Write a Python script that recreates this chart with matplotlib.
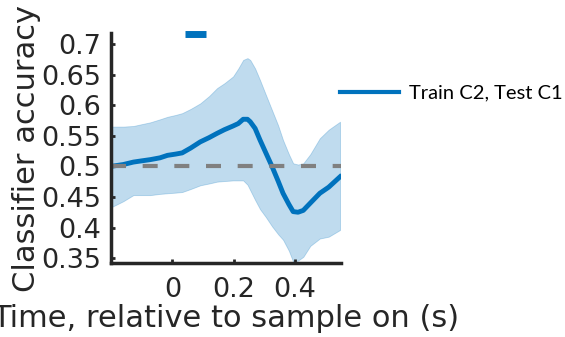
import matplotlib
matplotlib.use('Agg')
import matplotlib.pyplot as plt

# decoding accuracy, time locked to sample onset
t = [-0.2, -0.16, -0.127, -0.1, -0.072, -0.04, -0.016, 0.01, 0.032, 0.06, 0.091, 0.12,
     0.146, 0.17, 0.198, 0.215, 0.231, 0.245, 0.254, 0.27, 0.286, 0.305, 0.325, 0.345,
     0.361, 0.38, 0.394, 0.41, 0.427, 0.45, 0.481, 0.51, 0.547]
acc = [0.500, 0.503, 0.507, 0.509, 0.511, 0.514, 0.518, 0.520, 0.522, 0.530, 0.540, 0.547,
       0.554, 0.560, 0.566, 0.570, 0.577, 0.577, 0.573, 0.562, 0.543, 0.522, 0.500, 0.476,
       0.456, 0.438, 0.426, 0.425, 0.428, 0.440, 0.456, 0.466, 0.483]
upper = [0.565, 0.565, 0.566, 0.569, 0.572, 0.577, 0.581, 0.584, 0.587, 0.594, 0.603, 0.615,
         0.628, 0.636, 0.647, 0.660, 0.674, 0.677, 0.674, 0.660, 0.641, 0.617, 0.592, 0.567,
         0.543, 0.520, 0.505, 0.503, 0.505, 0.520, 0.546, 0.560, 0.573]
lower = [0.433, 0.443, 0.453, 0.453, 0.453, 0.455, 0.456, 0.457, 0.458, 0.463, 0.469, 0.472,
         0.475, 0.476, 0.477, 0.477, 0.477, 0.470, 0.461, 0.445, 0.430, 0.417, 0.402, 0.389,
         0.380, 0.362, 0.344, 0.346, 0.352, 0.370, 0.382, 0.385, 0.396]

# significant time window
sig_start, sig_end = 0.042, 0.11
sig_y = 0.716
chance = 0.5

blue = '#0072BD'
ink = '#262626'

fig = plt.figure(figsize=(5.65, 3.37), dpi=100)
ax = fig.add_axes([0.1965, 0.2196, 0.407, 0.6824])

ax.fill_between(t, lower, upper, facecolor=blue, alpha=0.25, edgecolor=blue, linewidth=0.6)
ax.plot(t, acc, color=blue, linewidth=3.5, label='Train C2, Test C1')
ax.axhline(chance, color='#808080', linestyle=(0, (3.6, 4)), linewidth=3)
ax.plot([sig_start, sig_end], [sig_y, sig_y], color=blue, linewidth=5, clip_on=False,
        solid_capstyle='butt')

ax.set_xlim(-0.2, 0.55)
ax.set_ylim(0.342, 0.718)
ax.set_xticks([0, 0.2, 0.4])
ax.set_xticklabels(['0', '0.2', '0.4'])
ax.set_yticks([0.35, 0.4, 0.45, 0.5, 0.55, 0.6, 0.65, 0.7])
ax.set_yticklabels(['0.35', '0.4', '0.45', '0.5', '0.55', '0.6', '0.65', '0.7'])

for s in ['top', 'right']:
    ax.spines[s].set_visible(False)
for s in ['left', 'bottom']:
    ax.spines[s].set_linewidth(2.5)
    ax.spines[s].set_color(ink)
ax.tick_params(direction='in', length=3, width=2, color=ink, labelsize=19.5,
               labelcolor=ink)
ax.tick_params(axis='x', pad=10)
ax.tick_params(axis='y', pad=7)

ax.set_xlabel('Time, relative to sample on (s)', fontsize=22, color=ink, labelpad=1)
ax.set_ylabel('Classifier accuracy', fontsize=22, color=ink, labelpad=0)

leg = fig.legend(loc='center left', bbox_to_anchor=(0.602, 0.724), frameon=False,
                 borderaxespad=0, borderpad=0, handlelength=2.9, handletextpad=0.5,
                 prop={'family': 'Lato', 'size': 14.5})
for line in leg.get_lines():
    line.set_linewidth(3)

fig.savefig('out.png', dpi=100)
